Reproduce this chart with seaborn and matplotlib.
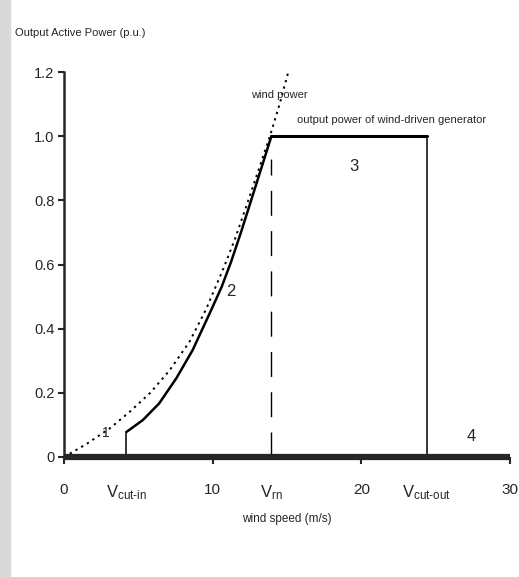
import numpy as np
import pandas as pd
import matplotlib
matplotlib.use('Agg')
import matplotlib.pyplot as plt
import seaborn as sns

# Dados (curva de potencia de um aerogerador)
wind_speed = [0, 1.5, 3.1, 4.4, 5.8, 7.1, 8.45, 9.55, 10.7, 11.5, 12.25, 13.05, 13.85, 14.5, 15.2]
wind_power = [0, 0.04, 0.09, 0.14, 0.2, 0.27, 0.36, 0.46, 0.585, 0.68, 0.78, 0.89, 1.0, 1.1, 1.22]

gen_speed = [4.2, 5.3, 6.4, 7.55, 8.65, 9.8, 10.6, 11.25, 11.9, 12.45, 13.2, 13.95]
gen_power = [0.078, 0.115, 0.167, 0.245, 0.333, 0.448, 0.53, 0.61, 0.70, 0.78, 0.89, 1.0]

v_cut_in = 4.2
v_rated = 13.95
v_cut_out = 24.4
rated_power = 1.0

x_ticks = [0, 10, 20, 30]
y_ticks = [0, 0.2, 0.4, 0.6, 0.8, 1.0, 1.2]
y_tick_labels = ['0', '0.2', '0.4', '0.6', '0.8', '1.0', '1.2']
v_labels = [r'$\mathregular{V_{\text{cut-in}}}$', r'$\mathregular{V_{\text{rn}}}$',
            r'$\mathregular{V_{\text{cut-out}}}$']

sns.set_style('ticks')
plt.rcParams['font.family'] = ['Liberation Sans', 'DejaVu Sans']
plt.rcParams['mathtext.fontset'] = 'custom'
plt.rcParams['mathtext.rm'] = 'Liberation Sans'

fig = plt.figure(figsize=(5.19, 5.77), dpi=100)
ax = fig.add_axes([0.1233, 0.208, 0.8594, 0.667])

# faixa cinza na borda esquerda
fig.patches.append(plt.Rectangle((0, 0), 0.02, 1, transform=fig.transFigure,
                                 color='#d9d9d9', zorder=0))

df_wind = pd.DataFrame({'v': wind_speed, 'p': wind_power})
sns.lineplot(data=df_wind, x='v', y='p', ax=ax, color='black', lw=1.4,
             linestyle=(0, (1.2, 2.2)), estimator=None, sort=False)

df_gen = pd.DataFrame({'v': gen_speed, 'p': gen_power})
sns.lineplot(data=df_gen, x='v', y='p', ax=ax, color='black', lw=1.8,
             estimator=None, sort=False)

# degraus verticais e patamar nominal
sns.lineplot(x=[v_cut_in, v_cut_in], y=[0, gen_power[0]], ax=ax, color='black',
             lw=1.1, estimator=None, sort=False)
sns.lineplot(x=[v_rated, v_cut_out], y=[rated_power, rated_power], ax=ax,
             color='black', lw=2.2, estimator=None, sort=False)
sns.lineplot(x=[v_cut_out, v_cut_out], y=[rated_power, 0], ax=ax, color='black',
             lw=1.1, estimator=None, sort=False)
ax.plot([v_rated, v_rated], [0, 0.93], color='black', lw=1.0,
        linestyle=(0, (18, 11)))

ax.set_xlim(0, 30)
ax.set_ylim(0, 1.2)
ax.set_xticks(x_ticks, [str(t) for t in x_ticks])
ax.set_xticks([v_cut_in, v_rated, v_cut_out], v_labels, minor=True)
ax.set_yticks(y_ticks, y_tick_labels)
ax.tick_params(axis='x', which='major', length=5, width=1.5, pad=14, labelsize=11)
ax.tick_params(axis='x', which='minor', length=0, pad=19, labelsize=12)
ax.tick_params(axis='y', length=4, width=1.5, pad=3, labelsize=10.5)
ax.set_xlabel('wind speed (m/s)', fontsize=8.5, labelpad=8)
ax.set_ylabel('')

for s in ['top', 'right']:
    ax.spines[s].set_visible(False)
ax.spines['left'].set_linewidth(1.8)
ax.spines['bottom'].set_linewidth(4.5)
ax.spines['bottom'].set_capstyle('butt')

fig.text(15 / 519, 1 - 33 / 577, 'Output Active Power (p.u.)', fontsize=8,
         ha='left', va='center')

ax.text(14.5, 1.13, 'wind power', fontsize=8, ha='center', va='center')
ax.text(22.0, 1.05, 'output power of wind-driven generator', fontsize=8,
        ha='center', va='center')
ax.text(2.8, 0.074, '1', fontsize=10, ha='center', va='center')
ax.text(11.25, 0.515, '2', fontsize=12, ha='center', va='center')
ax.text(19.5, 0.907, '3', fontsize=12, ha='center', va='center')
ax.text(27.4, 0.0625, '4', fontsize=12, ha='center', va='center')

plt.savefig('out.png', dpi=100)
